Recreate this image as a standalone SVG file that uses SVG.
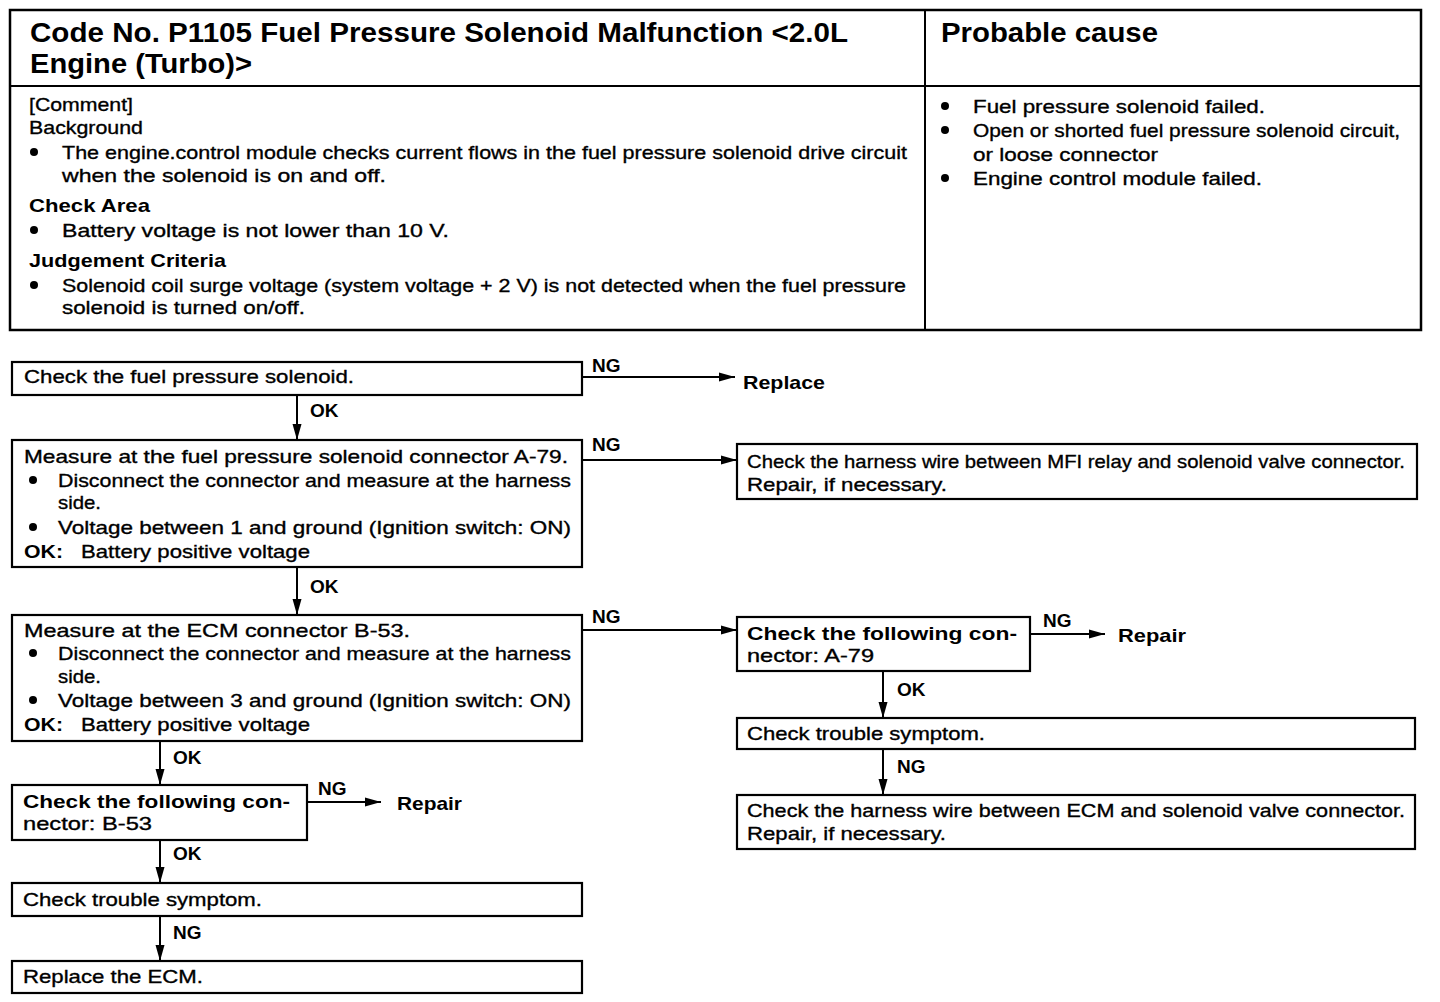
<svg xmlns="http://www.w3.org/2000/svg" width="1440" height="1002" viewBox="0 0 1440 1002">
<style>
text{font-family:"Liberation Sans",Arial,Helvetica,sans-serif;fill:#000}
.t{font-size:19px;stroke:#000;stroke-width:0.35}
.b{font-size:19px;font-weight:bold}
.h{font-size:27px;font-weight:bold}
.box{fill:#fff;stroke:#000;stroke-width:2.2}
.ln{stroke:#000;stroke-width:2;fill:none}
.dot{fill:#000}
</style>
<defs>
<marker id="ah" markerUnits="userSpaceOnUse" markerWidth="16" markerHeight="10" refX="16" refY="5" orient="auto">
<path d="M0,0.5 L16,5 L0,9.5 z" fill="#000"/>
</marker>
</defs>
<rect width="1440" height="1002" fill="#fff"/>

<g id="header">
<rect x="10" y="10" width="1411" height="320" fill="none" stroke="#000" stroke-width="2.5"/>
<line x1="10" y1="86" x2="1421" y2="86" stroke="#000" stroke-width="2"/>
<line x1="925" y1="10" x2="925" y2="330" stroke="#000" stroke-width="2"/>
<text class="h" x="30" y="42" textLength="818" lengthAdjust="spacingAndGlyphs">Code No. P1105 Fuel Pressure Solenoid Malfunction &lt;2.0L</text>
<text class="h" x="30" y="73" textLength="222" lengthAdjust="spacingAndGlyphs">Engine (Turbo)&gt;</text>
<text class="h" x="941" y="42" textLength="217" lengthAdjust="spacingAndGlyphs">Probable cause</text>

<text class="t" x="29" y="111" textLength="104" lengthAdjust="spacingAndGlyphs">[Comment]</text>
<text class="t" x="29" y="134" textLength="114" lengthAdjust="spacingAndGlyphs">Background</text>
<circle class="dot" cx="34" cy="152" r="4"/>
<text class="t" x="62" y="159" textLength="845" lengthAdjust="spacingAndGlyphs">The engine.control module checks current flows in the fuel pressure solenoid drive circuit</text>
<text class="t" x="62" y="182" textLength="324" lengthAdjust="spacingAndGlyphs">when the solenoid is on and off.</text>
<text class="b" x="29" y="212" textLength="121" lengthAdjust="spacingAndGlyphs">Check Area</text>
<circle class="dot" cx="34" cy="230" r="4"/>
<text class="t" x="62" y="237" textLength="387" lengthAdjust="spacingAndGlyphs">Battery voltage is not lower than 10 V.</text>
<text class="b" x="29" y="267" textLength="197" lengthAdjust="spacingAndGlyphs">Judgement Criteria</text>
<circle class="dot" cx="34" cy="285" r="4"/>
<text class="t" x="62" y="292" textLength="844" lengthAdjust="spacingAndGlyphs">Solenoid coil surge voltage (system voltage + 2 V) is not detected when the fuel pressure</text>
<text class="t" x="62" y="314" textLength="243" lengthAdjust="spacingAndGlyphs">solenoid is turned on/off.</text>

<circle class="dot" cx="945" cy="106" r="4"/>
<text class="t" x="973" y="113" textLength="292" lengthAdjust="spacingAndGlyphs">Fuel pressure solenoid failed.</text>
<circle class="dot" cx="945" cy="130" r="4"/>
<text class="t" x="973" y="137" textLength="427" lengthAdjust="spacingAndGlyphs">Open or shorted fuel pressure solenoid circuit,</text>
<text class="t" x="973" y="161" textLength="185" lengthAdjust="spacingAndGlyphs">or loose connector</text>
<circle class="dot" cx="945" cy="178" r="4"/>
<text class="t" x="973" y="185" textLength="289" lengthAdjust="spacingAndGlyphs">Engine control module failed.</text>
</g>

<g id="connectors">
<line class="ln" x1="297" y1="395" x2="297" y2="440" marker-end="url(#ah)"/>
<text class="b" x="310" y="417">OK</text>
<line class="ln" x1="582" y1="377" x2="735" y2="377" marker-end="url(#ah)"/>
<text class="b" x="592" y="372">NG</text>

<line class="ln" x1="297" y1="567" x2="297" y2="615" marker-end="url(#ah)"/>
<text class="b" x="310" y="593">OK</text>
<line class="ln" x1="582" y1="460" x2="737" y2="460" marker-end="url(#ah)"/>
<text class="b" x="592" y="451">NG</text>

<line class="ln" x1="582" y1="630" x2="737" y2="630" marker-end="url(#ah)"/>
<text class="b" x="592" y="623">NG</text>

<line class="ln" x1="1030" y1="634" x2="1105" y2="634" marker-end="url(#ah)"/>
<text class="b" x="1043" y="627">NG</text>
<line class="ln" x1="883" y1="671" x2="883" y2="718" marker-end="url(#ah)"/>
<text class="b" x="897" y="696">OK</text>
<line class="ln" x1="883" y1="749" x2="883" y2="795" marker-end="url(#ah)"/>
<text class="b" x="897" y="773">NG</text>

<line class="ln" x1="160" y1="741" x2="160" y2="785" marker-end="url(#ah)"/>
<text class="b" x="173" y="764">OK</text>
<line class="ln" x1="307" y1="802" x2="381" y2="802" marker-end="url(#ah)"/>
<text class="b" x="318" y="795">NG</text>
<line class="ln" x1="160" y1="840" x2="160" y2="883" marker-end="url(#ah)"/>
<text class="b" x="173" y="860">OK</text>
<line class="ln" x1="160" y1="916" x2="160" y2="961" marker-end="url(#ah)"/>
<text class="b" x="173" y="939">NG</text>
</g>

<g id="n1">
<rect class="box" x="12" y="362" width="570" height="33"/>
<text class="t" x="24" y="383" textLength="330" lengthAdjust="spacingAndGlyphs">Check the fuel pressure solenoid.</text>
</g>
<g id="r1">
<text class="b" x="743" y="389" textLength="82" lengthAdjust="spacingAndGlyphs">Replace</text>
</g>

<g id="n2">
<rect class="box" x="12" y="440" width="570" height="127"/>
<text class="t" x="24" y="463" textLength="544" lengthAdjust="spacingAndGlyphs">Measure at the fuel pressure solenoid connector A-79.</text>
<circle class="dot" cx="33" cy="480" r="4"/>
<text class="t" x="58" y="487" textLength="513" lengthAdjust="spacingAndGlyphs">Disconnect the connector and measure at the harness</text>
<text class="t" x="58" y="509" textLength="43" lengthAdjust="spacingAndGlyphs">side.</text>
<circle class="dot" cx="33" cy="527" r="4"/>
<text class="t" x="58" y="534" textLength="513" lengthAdjust="spacingAndGlyphs">Voltage between 1 and ground (Ignition switch: ON)</text>
<text class="b" x="24" y="558" textLength="39" lengthAdjust="spacingAndGlyphs">OK:</text>
<text class="t" x="81" y="558" textLength="229" lengthAdjust="spacingAndGlyphs">Battery positive voltage</text>
</g>

<g id="nA">
<rect class="box" x="737" y="444" width="680" height="55"/>
<text class="t" x="747" y="468" textLength="658" lengthAdjust="spacingAndGlyphs">Check the harness wire between MFI relay and solenoid valve connector.</text>
<text class="t" x="747" y="491" textLength="200" lengthAdjust="spacingAndGlyphs">Repair, if necessary.</text>
</g>

<g id="n3">
<rect class="box" x="12" y="615" width="570" height="126"/>
<text class="t" x="24" y="637" textLength="386" lengthAdjust="spacingAndGlyphs">Measure at the ECM connector B-53.</text>
<circle class="dot" cx="33" cy="653" r="4"/>
<text class="t" x="58" y="660" textLength="513" lengthAdjust="spacingAndGlyphs">Disconnect the connector and measure at the harness</text>
<text class="t" x="58" y="683" textLength="43" lengthAdjust="spacingAndGlyphs">side.</text>
<circle class="dot" cx="33" cy="700" r="4"/>
<text class="t" x="58" y="707" textLength="513" lengthAdjust="spacingAndGlyphs">Voltage between 3 and ground (Ignition switch: ON)</text>
<text class="b" x="24" y="731" textLength="39" lengthAdjust="spacingAndGlyphs">OK:</text>
<text class="t" x="81" y="731" textLength="229" lengthAdjust="spacingAndGlyphs">Battery positive voltage</text>
</g>

<g id="nB">
<rect class="box" x="737" y="617" width="293" height="54"/>
<text class="b" x="747" y="640" textLength="270" lengthAdjust="spacingAndGlyphs">Check the following con-</text>
<text class="t" x="747" y="662" textLength="127" lengthAdjust="spacingAndGlyphs">nector: A-79</text>
</g>
<g id="rB">
<text class="b" x="1118" y="642" textLength="68" lengthAdjust="spacingAndGlyphs">Repair</text>
</g>

<g id="nC">
<rect class="box" x="737" y="718" width="678" height="31"/>
<text class="t" x="747" y="740" textLength="238" lengthAdjust="spacingAndGlyphs">Check trouble symptom.</text>
</g>

<g id="nD">
<rect class="box" x="737" y="795" width="678" height="54"/>
<text class="t" x="747" y="817" textLength="658" lengthAdjust="spacingAndGlyphs">Check the harness wire between ECM and solenoid valve connector.</text>
<text class="t" x="747" y="840" textLength="199" lengthAdjust="spacingAndGlyphs">Repair, if necessary.</text>
</g>

<g id="nE">
<rect class="box" x="12" y="785" width="295" height="55"/>
<text class="b" x="23" y="808" textLength="267" lengthAdjust="spacingAndGlyphs">Check the following con-</text>
<text class="t" x="23" y="830" textLength="129" lengthAdjust="spacingAndGlyphs">nector: B-53</text>
</g>
<g id="rE">
<text class="b" x="397" y="810" textLength="65" lengthAdjust="spacingAndGlyphs">Repair</text>
</g>

<g id="nF">
<rect class="box" x="12" y="883" width="570" height="33"/>
<text class="t" x="23" y="906" textLength="239" lengthAdjust="spacingAndGlyphs">Check trouble symptom.</text>
</g>

<g id="nG">
<rect class="box" x="12" y="961" width="570" height="32"/>
<text class="t" x="23" y="983" textLength="180" lengthAdjust="spacingAndGlyphs">Replace the ECM.</text>
</g>
</svg>
